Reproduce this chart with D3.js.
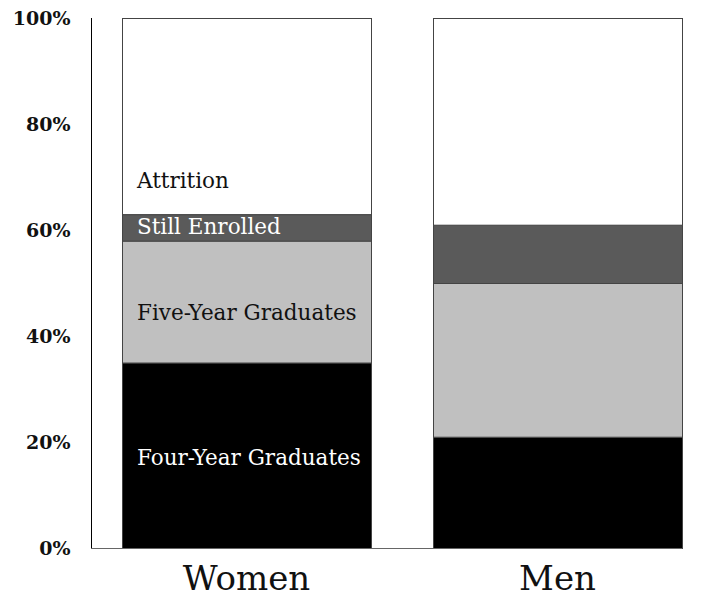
<!DOCTYPE html>
<html><head><meta charset="utf-8">
<script src="https://cdn.jsdelivr.net/npm/d3@7"></script>
<style>body{margin:0;background:#fff}</style>
</head><body>
<svg id="c" width="701" height="598"></svg>
<script>
const categories = ["Women", "Men"];
const seriesNames = ["Four-Year Graduates", "Five-Year Graduates", "Still Enrolled", "Attrition"];
const fourYear = [35, 21];
const fiveYear = [23, 29];
const stillEnrolled = [5, 11];
const attrition = [37, 39];
const tickValues = [0, 20, 40, 60, 80, 100];
const labelAt = [15.7, 43, 59.3, 67.9];
const colors = ["#000000", "#c0c0c0", "#5a5a5a", "#ffffff"];
const labelColors = ["#ffffff", "#111111", "#ffffff", "#111111"];

const svg = d3.select("#c");
const xb = d3.scaleOrdinal().domain(categories).range([122, 433]);
const bw = 249;
const y = d3.scaleLinear().domain([0, 100]).range([548, 18]);

const rows = categories.map((c, i) => ({cat: c, "Four-Year Graduates": fourYear[i], "Five-Year Graduates": fiveYear[i], "Still Enrolled": stillEnrolled[i], "Attrition": attrition[i]}));
const stack = d3.stack().keys(seriesNames)(rows);

stack.forEach((s, si) => {
  svg.append("g").selectAll("rect").data(s).join("rect")
    .attr("x", d => xb(d.data.cat) + 0.5)
    .attr("y", d => y(d[1]) + 0.5)
    .attr("width", bw)
    .attr("height", d => y(d[0]) - y(d[1]))
    .attr("fill", colors[si])
    .attr("stroke", "#444")
    .attr("stroke-width", 1);
});

// axis
const yAxis = d3.axisLeft(y).tickValues(tickValues).tickSize(0).tickPadding(21).tickFormat(d => d + "%");
const ga = svg.append("g").attr("transform", "translate(91.5,0)").call(yAxis);
ga.select(".domain").attr("stroke", "#000").attr("d", `M0,${y(100)}V${y(0)+0.5}`);
ga.selectAll("text").attr("font-family", "DejaVu Serif").attr("font-weight", "bold").attr("font-size", 19).attr("fill", "#111");
svg.append("line").attr("x1", 91).attr("x2", 682).attr("y1", y(0) + 0.5).attr("y2", y(0) + 0.5).attr("stroke", "#666");

// category labels
svg.append("g").selectAll("text").data(categories).join("text")
  .attr("x", d => xb(d) + bw / 2).attr("y", 590)
  .attr("text-anchor", "middle").attr("font-family", "DejaVu Serif").attr("font-size", 34).attr("fill", "#111")
  .text(d => d);

// segment labels (Women bar)
svg.append("g").selectAll("text").data(seriesNames).join("text")
  .attr("x", xb("Women") + 15).attr("y", (d, i) => y(labelAt[i]))
  .attr("font-family", "DejaVu Serif").attr("font-size", 21.5).attr("fill", (d, i) => labelColors[i])
  .text(d => d);
</script>
</body></html>
